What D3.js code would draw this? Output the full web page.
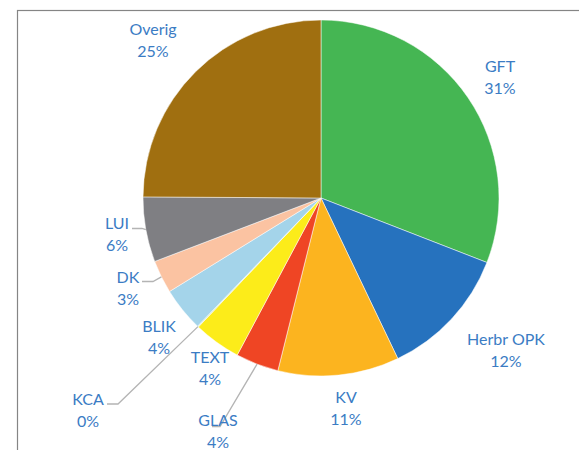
<!DOCTYPE html>
<html>
<head>
<meta charset="utf-8">
<script src="https://cdnjs.cloudflare.com/ajax/libs/d3/7.8.5/d3.min.js"></script>
<style>
  body { margin: 0; background: #fff; }
  .canvas { width: 579px; height: 450px; }
</style>
</head>
<body>
<div class="canvas"></div>
<script>
// slices, clockwise from 12 o'clock
const categories = ["GFT", "Herbr OPK", "KV", "GLAS", "TEXT", "KCA", "BLIK", "DK", "LUI", "Overig"]
const values = [30.9, 12.0, 11.0, 3.9, 4.3, 0.1, 4.0, 3.0, 5.9, 24.9]
const colors = ["#45b653", "#2672be", "#fcb41f", "#ef4524", "#fcec1a", "#d6e9c0", "#a4d4ea", "#fbc3a2", "#7f7f83", "#a06f10"]

// where excel put the labels (center x, baseline of first line)
const labelPos = {
  "GFT": [500, 72],
  "Herbr OPK": [506, 345],
  "KV": [346, 403],
  "GLAS": [218, 426],
  "TEXT": [210, 363],
  "KCA": [88, 405],
  "BLIK": [159, 332],
  "DK": [128, 283],
  "LUI": [117, 229],
  "Overig": [153, 35]
}
// leader lines: elbow and end point
const leaders = {
  "LUI": [[142, 228.5], [132, 228.5]],
  "DK": [[153, 281.5], [142, 281.5]],
  "KCA": [[118, 404], [107, 404]],
  "GLAS": [[220, 426.5], [212, 426.5]]
}

const cx = 321, cy = 198, radius = 178

const canvas = d3.select(".canvas")
const svg = canvas.append('svg')
    .attr('width', 579)
    .attr('height', 450)

// chart frame (cut off on the right and bottom)
svg.append('rect')
    .attr('x', 17.5)
    .attr('y', 10.5)
    .attr('width', 700)
    .attr('height', 600)
    .attr('fill', 'none')
    .attr('stroke', '#858585')
    .attr('stroke-width', 1.2)

const data = categories.map((c, i) => ({ name: c, value: values[i], color: colors[i] }))
const total = d3.sum(values)

const pie = d3.pie()
    .sort(null)
    .value(d => d.value)

const arc = d3.arc()
    .innerRadius(0)
    .outerRadius(radius)

const edge = d3.arc()
    .innerRadius(radius)
    .outerRadius(radius)

const g = svg.append('g')
    .attr('transform', `translate(${cx},${cy})`)

const arcs = pie(data)

g.selectAll('path.slice')
    .data(arcs)
    .enter()
    .append('path')
    .attr('class', 'slice')
    .attr('d', arc)
    .attr('fill', d => d.data.color)
    .attr('stroke', '#ffffff')
    .attr('stroke-width', 0.5)

// leader lines
arcs.filter(d => leaders[d.data.name]).forEach(d => {
    const [sx, sy] = edge.centroid(d)
    const pts = [[sx + cx, sy + cy]].concat(leaders[d.data.name])
    svg.append('path')
        .attr('d', d3.line()(pts))
        .attr('fill', 'none')
        .attr('stroke', '#b4b4b4')
        .attr('stroke-width', 1.3)
})

// labels
arcs.forEach(d => {
    const [x, y] = labelPos[d.data.name]
    const t = svg.append('text')
        .attr('x', x)
        .attr('y', y)
        .attr('text-anchor', 'middle')
        .attr('fill', '#3b7cc4')
        .style('font-family', 'Lato')
        .style('font-size', '16px')
    t.append('tspan')
        .attr('x', x)
        .text(d.data.name)
    t.append('tspan')
        .attr('x', x)
        .attr('dy', 21.5)
        .text(Math.round(d.data.value / total * 100) + '%')
})
</script>
</body>
</html>
